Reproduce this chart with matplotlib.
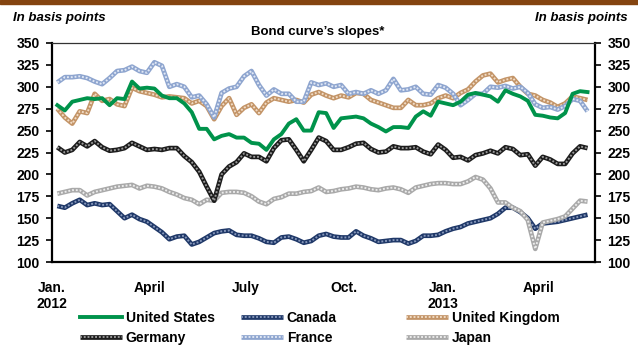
import numpy as np
import pandas as pd
import matplotlib
matplotlib.use("Agg")
import matplotlib.pyplot as plt
from matplotlib.patches import Rectangle
from matplotlib.legend_handler import HandlerTuple

plt.rcParams['font.family'] = ['Liberation Sans', 'DejaVu Sans']
plt.rcParams['font.weight'] = 'bold'

# weekly readings, basis points
weeks = pd.date_range('2012-01-06', periods=72, freq='7D')

united_states = [279, 273, 283, 285, 287, 286, 287, 279, 287, 286, 306, 298, 299, 298, 290, 287, 287, 281,
                 271, 252, 252, 240, 244, 246, 242, 242, 236, 235, 228, 240, 246, 258, 263, 250, 250, 271,
                 270, 253, 264, 265, 266, 264, 258, 254, 249, 254, 254, 253, 266, 272, 267, 283, 281, 279,
                 283, 291, 293, 291, 289, 283, 296, 292, 289, 284, 268, 267, 265, 264, 270, 292, 295, 294]
canada = [164, 162, 167, 171, 165, 167, 165, 166, 158, 150, 154, 149, 146, 140, 134, 126, 129, 130,
          120, 123, 128, 133, 135, 136, 131, 130, 130, 127, 123, 122, 128, 129, 126, 122, 124, 130,
          132, 129, 128, 128, 135, 130, 127, 123, 124, 125, 125, 121, 124, 130, 130, 131, 135, 138,
          140, 144, 146, 148, 150, 155, 162, 162, 157, 150, 138, 144, 145, 146, 148, 150, 152, 154]
united_kingdom = [275, 265, 258, 272, 270, 292, 284, 286, 280, 278, 299, 295, 293, 291, 288, 289, 288, 287,
                  281, 284, 278, 263, 278, 287, 268, 276, 280, 270, 282, 287, 285, 283, 285, 282, 291, 294,
                  290, 287, 290, 288, 293, 292, 285, 282, 279, 276, 276, 285, 279, 279, 281, 287, 290, 287,
                  293, 297, 306, 313, 315, 305, 308, 310, 300, 292, 290, 285, 282, 277, 281, 289, 287, 285]
germany = [231, 225, 228, 237, 232, 238, 231, 227, 228, 230, 236, 232, 228, 229, 228, 230, 230, 221,
           214, 203, 186, 170, 200, 209, 214, 224, 220, 220, 215, 230, 239, 240, 228, 215, 228, 242,
           238, 228, 228, 231, 235, 236, 229, 225, 226, 232, 230, 230, 231, 226, 223, 234, 228, 219,
           220, 216, 222, 224, 227, 224, 231, 229, 222, 223, 210, 220, 217, 212, 212, 224, 232, 230]
france = [305, 311, 311, 312, 310, 306, 303, 310, 318, 319, 323, 318, 316, 328, 324, 300, 303, 300,
          288, 290, 280, 265, 293, 298, 300, 312, 318, 302, 290, 297, 292, 292, 283, 283, 305, 302,
          304, 300, 302, 292, 294, 292, 296, 292, 296, 309, 296, 297, 300, 292, 291, 302, 299, 292,
          279, 285, 292, 292, 300, 299, 301, 298, 300, 293, 280, 276, 277, 274, 278, 286, 284, 272]
japan = [178, 180, 182, 182, 176, 180, 182, 184, 186, 187, 188, 184, 187, 186, 184, 180, 177, 173,
         171, 166, 171, 170, 179, 180, 180, 179, 175, 169, 166, 172, 174, 178, 178, 180, 181, 185,
         180, 181, 183, 184, 186, 185, 183, 182, 184, 185, 183, 179, 185, 187, 189, 190, 190, 189,
         189, 192, 197, 194, 184, 168, 168, 162, 158, 148, 115, 145, 147, 149, 152, 161, 170, 169]

month_ticks = pd.to_datetime(['2012-01-01', '2012-04-01', '2012-07-01', '2012-10-01',
                              '2013-01-01', '2013-04-01'])
month_labels = ['Jan.\n2012', 'April', 'July', 'Oct.', 'Jan.\n2013', 'April']

fig = plt.figure(figsize=(6.38, 3.47), dpi=100)
ax = fig.add_axes([52 / 638, 85 / 347, 543 / 638, 219 / 347])


def hatched(x, y, base, dots, lw=3.4):
    # thick line with a fine dotted overlay to give the patterned look
    l1, = ax.plot(x, y, color=base, lw=lw, solid_joinstyle='round', solid_capstyle='butt')
    l2, = ax.plot(x, y, color=dots, lw=lw * 0.4, ls=(0, (1.0, 1.0)), dash_capstyle='butt')
    return (l1, l2)


h_ca = hatched(weeks, canada, '#1f3868', '#8798bb')
h_jp = hatched(weeks, japan, '#a9a9a9', '#ececec')
h_de = hatched(weeks, germany, '#1c1c1c', '#9a9a9a')
h_uk = hatched(weeks, united_kingdom, '#c39467', '#f1dcc6')
h_fr = hatched(weeks, france, '#8ea5cf', '#e1e8f5')
h_us, = ax.plot(weeks, united_states, color='#00934b', lw=2.8, solid_joinstyle='round')

ax.set_xlim(pd.Timestamp('2012-01-01'), pd.Timestamp('2013-05-24'))
ax.set_ylim(100, 350)
ax.set_yticks(np.arange(100, 351, 25))
ax.set_xticks(month_ticks)
ax.set_xticklabels(month_labels, fontsize=10, fontweight='bold', linespacing=1.1)
ax.tick_params(axis='x', length=0, pad=14)
ax.tick_params(axis='y', direction='out', length=4, width=1.2, labelsize=10, pad=5,
               left=True, right=True, labelleft=True, labelright=True)
for lab in ax.get_yticklabels():
    lab.set_fontweight('bold')

for side in ['left', 'right', 'bottom']:
    ax.spines[side].set_linewidth(1.6)
    ax.spines[side].set_color('black')
ax.spines['top'].set_linewidth(0.9)
ax.spines['top'].set_color('#333333')

# brown band along the top edge
fig.add_artist(Rectangle((0, 1 - 4 / 347), 1, 4 / 347, transform=fig.transFigure,
                         color='#844410', zorder=5))

fig.text(318 / 638, 1 - 32 / 347, 'Bond curve\u2019s slopes*', ha='center', va='center',
         fontsize=9.5, fontweight='bold')
fig.text(13 / 638, 1 - 18 / 347, 'In basis points', ha='left', va='center',
         fontsize=9.5, fontweight='bold', style='italic')
fig.text(628 / 638, 1 - 18 / 347, 'In basis points', ha='right', va='center',
         fontsize=9.5, fontweight='bold', style='italic')

legend_cols = [
    ([h_us, h_de], ['United States', 'Germany'], 80),
    ([h_ca, h_fr], ['Canada', 'France'], 241),
    ([h_uk, h_jp], ['United Kingdom', 'Japan'], 406),
]
for handles, labels, x0 in legend_cols:
    fig.legend(handles, labels, loc='upper left', bbox_to_anchor=(x0 / 638, 1 - 311 / 347),
               frameon=False, handlelength=3.0, handletextpad=0.3,
               labelspacing=0.45, borderpad=0, borderaxespad=0,
               handler_map={tuple: HandlerTuple(ndivide=1)},
               prop={'weight': 'bold', 'size': 10})

fig.savefig('out.png', dpi=100)
